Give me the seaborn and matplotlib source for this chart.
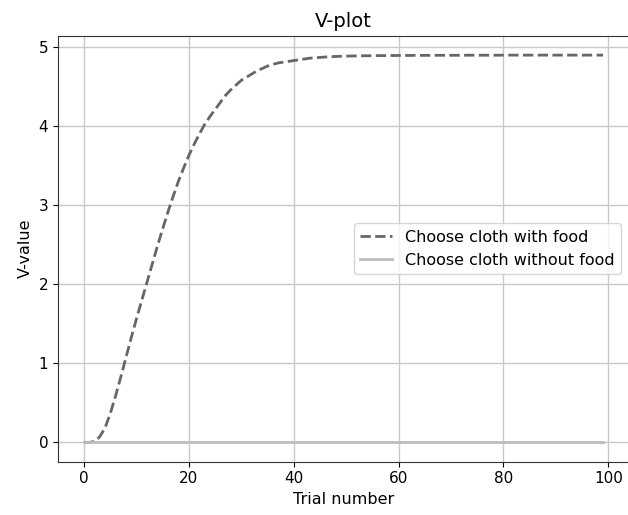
import matplotlib
matplotlib.use("Agg")
import matplotlib.pyplot as plt
import seaborn as sns
import pandas as pd
import numpy as np

trials = list(range(100))
v_with_food = [
    0.0, 0.0, 0.01, 0.07, 0.18, 0.36, 0.58, 0.82, 1.07, 1.32,
    1.56, 1.79, 2.02, 2.25, 2.48, 2.70, 2.91, 3.11, 3.30, 3.47,
    3.63, 3.77, 3.90, 4.02, 4.12, 4.21, 4.30, 4.39, 4.46, 4.52,
    4.58, 4.62, 4.66, 4.70, 4.73, 4.76, 4.78, 4.80, 4.81, 4.82,
    4.83, 4.84, 4.85, 4.86, 4.865, 4.87, 4.875, 4.88, 4.882, 4.885,
    4.887, 4.888, 4.889, 4.89, 4.891, 4.892, 4.893, 4.893, 4.894, 4.894,
    4.895, 4.895, 4.895, 4.896, 4.896, 4.896, 4.896, 4.897, 4.897, 4.897,
    4.897, 4.897, 4.898, 4.898, 4.898, 4.898, 4.898, 4.898, 4.898, 4.898,
    4.899, 4.899, 4.899, 4.899, 4.899, 4.899, 4.899, 4.899, 4.899, 4.899,
    4.899, 4.899, 4.899, 4.899, 4.899, 4.899, 4.899, 4.899, 4.899, 4.899,
]
v_without_food = [0.0] * 100
series_labels = ["Choose cloth with food", "Choose cloth without food"]

df = pd.DataFrame({
    "trial": trials * 2,
    "value": v_with_food + v_without_food,
    "series": [series_labels[0]] * 100 + [series_labels[1]] * 100,
})

plt.rcParams["font.family"] = ["DejaVu Sans"]
fig = plt.figure(figsize=(6.28, 5.15), dpi=100)
ax = fig.add_axes([58 / 628, 0.1035, (629 - 58) / 628, 0.9307 - 0.1035])

sns.lineplot(data=df[df.series == series_labels[0]], x="trial", y="value",
             color="#666666", linestyle="--", linewidth=2, ax=ax,
             label=series_labels[0])
sns.lineplot(data=df[df.series == series_labels[1]], x="trial", y="value",
             color="#bdbdbd", linestyle="-", linewidth=2, ax=ax,
             label=series_labels[1])

ax.set_xlim(-4.95, 103.95)
ax.set_ylim(-0.245, 5.145)
ax.set_xticks([0, 20, 40, 60, 80, 100])
ax.set_yticks([0, 1, 2, 3, 4, 5])
ax.grid(True, color="#c8c8c8", linewidth=1)
ax.set_axisbelow(True)
ax.set_title("V-plot", fontsize=14, pad=6.5)
ax.set_xlabel("Trial number", fontsize=11.5)
ax.set_ylabel("V-value", fontsize=11.5)
ax.tick_params(labelsize=11)
for s in ax.spines.values():
    s.set_color("#333333")
ax.legend(loc="center right", fontsize=11.5)

fig.savefig("out.png", dpi=100)
